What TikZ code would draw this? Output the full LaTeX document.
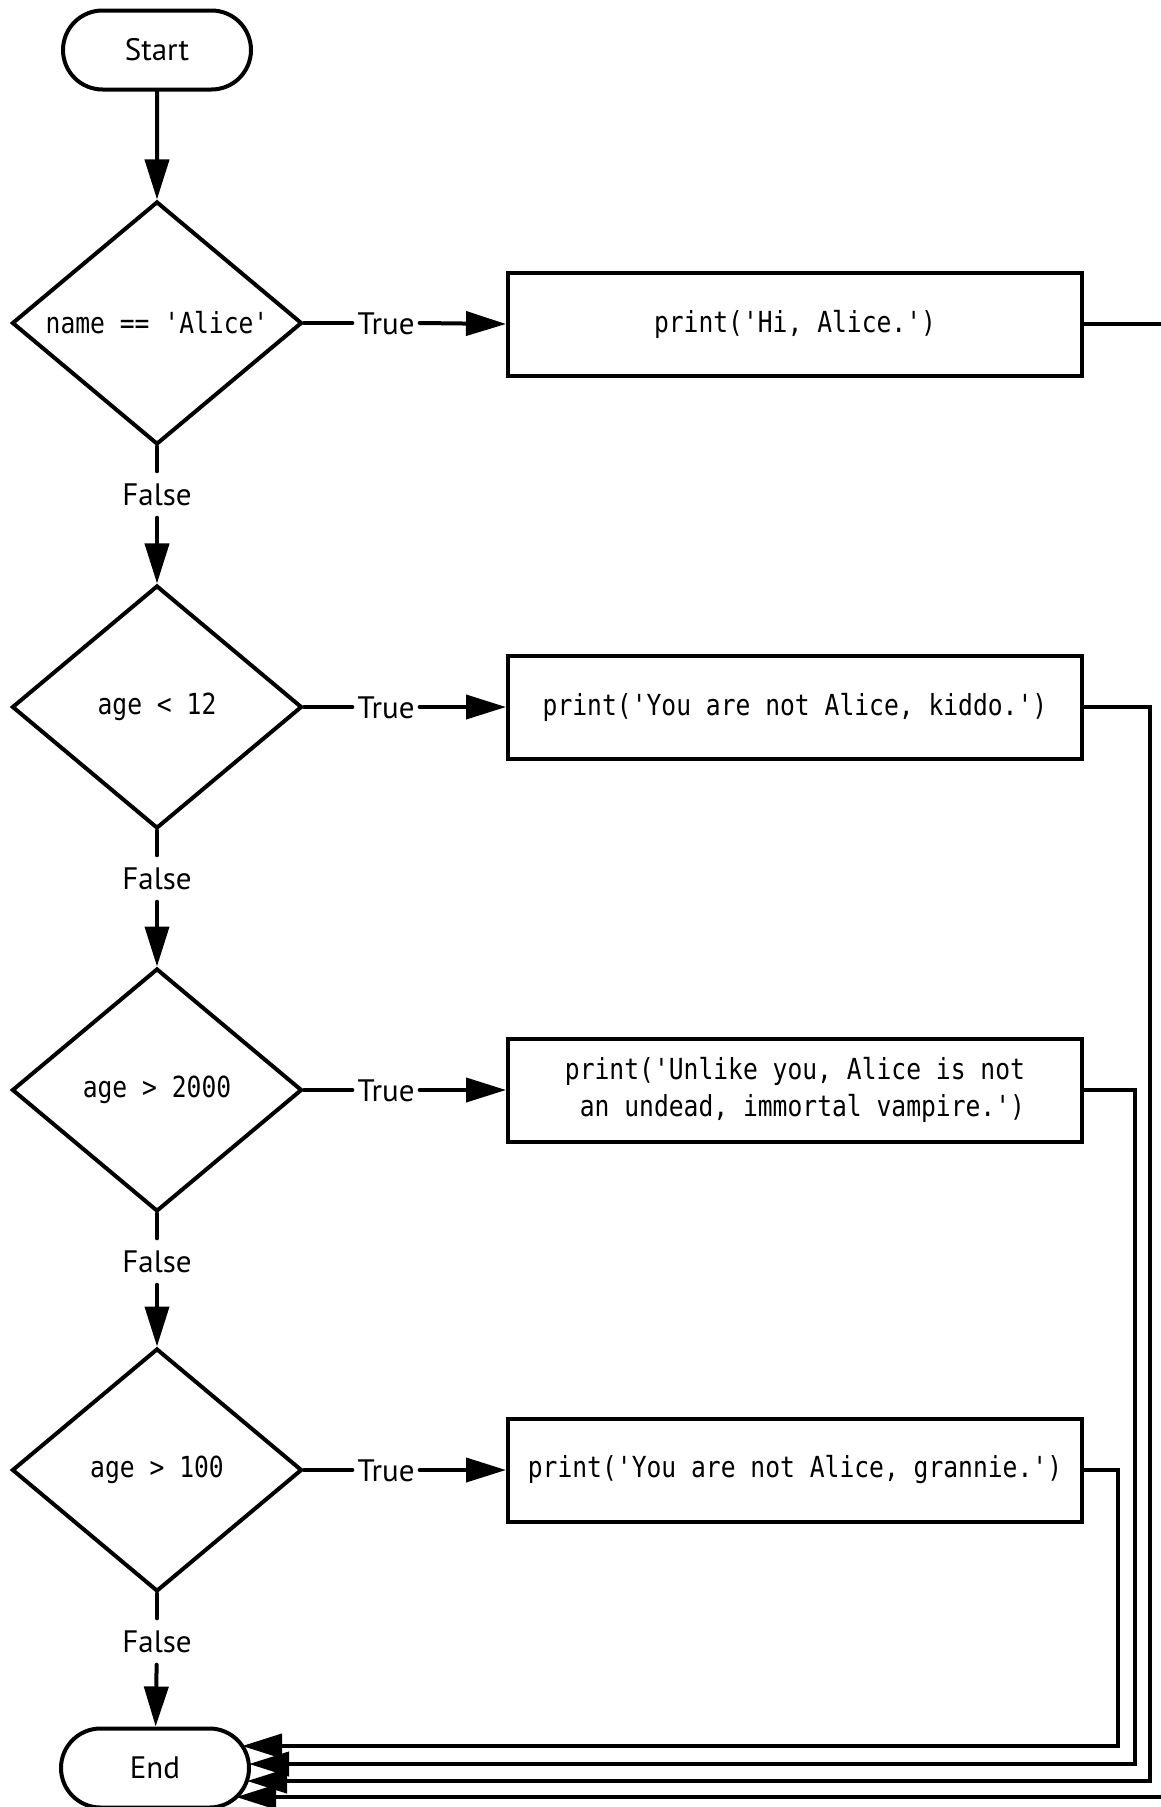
\documentclass[tikz,border=0pt]{standalone}
\usepackage{fontspec}
\setmainfont{PT Sans}
\setmonofont{DejaVu Sans Mono}[FakeStretch=0.85]
\usepackage{tikz}
\usetikzlibrary{calc,arrows.meta,shapes.geometric,shapes.misc}
\tikzset{
  base/.style={draw=black, line width=4pt, line cap=round, line join=miter},
  arr/.style={base, -{Triangle[length=40pt,width=24pt]}},
  term/.style={base, rounded rectangle, minimum width=188pt, minimum height=79pt, inner sep=0pt, font=\fontsize{31}{36}\selectfont},
  test/.style={base, diamond, aspect=1.2, minimum width=290pt, minimum height=243pt, inner sep=0pt, font=\fontsize{29}{34}\selectfont\ttfamily},
  act/.style={base, rectangle, minimum width=574pt, minimum height=103pt, inner sep=0pt, align=left, font=\fontsize{29}{37}\selectfont\ttfamily},
  lab/.style={inner xsep=5pt, inner ysep=12pt, text height=22pt, text depth=0pt, font=\fontsize{31}{36}\selectfont},
}

\begin{document}
\begin{tikzpicture}[x=1pt,y=-1pt]
  \useasboundingbox (0,0) rectangle (1161,1807);
  \clip (0,0) rectangle (1161,1807);
  % decisions
  \node[term] (start) at (157,50) {Start};
  \node[test] (t1) at (157,323) {name == 'Alice'};
  \node[test] (t2) at (157,707) {age < 12};
  \node[test] (t3) at (157,1090) {age > 2000};
  \node[test] (t4) at (157,1470) {age > 100};
  \node[term] (end) at (155,1768) {End};
  % print boxes
  \node[act] (p1) at (795,324) {print('Hi, Alice.')};
  \node[act] (p2) at (795,707) {print('You are not Alice, kiddo.')};
  \node[act] (p3) at (795,1090) {print('Unlike you, Alice is not\\\hphantom{a}an undead, immortal vampire.')};
  \node[act] (p4) at (795,1470) {print('You are not Alice, grannie.')};
  % branch labels
  \foreach \i in {1,...,4}{
    \node[lab] (yes\i) at (386,0 |- t\i) {True};
    \node[lab] (no\i) at ($(t\i.south)+(0,48)$) {False};
    \draw[base] (t\i.east) -- (yes\i.west);
    \draw[arr] (yes\i.east) -- (p\i.west);
    \draw[base] (t\i.south) -- (no\i.north);
  }
  \draw[arr] (start) -- (t1);
  \draw[arr] (no1) -- (t2);
  \draw[arr] (no2) -- (t3);
  \draw[arr] (no3) -- (t4);
  \draw[arr] (no4) -- (end);
  % return lines into End
  \coordinate (c1) at (1170,0);
  \coordinate (c2) at (1150,0);
  \coordinate (c3) at (1135,0);
  \coordinate (c4) at (1118,0);
  \coordinate (in1) at ($(end.center)+(81,29)$);
  \coordinate (in2) at ($(end.center)+(92,13)$);
  \coordinate (in3) at ($(end.center)+(94,-4)$);
  \coordinate (in4) at ($(end.center)+(87,-22)$);
  \foreach \i in {1,...,4}
    \draw[arr] (p\i.east) -- (p\i.east -| c\i) |- (in\i);
\end{tikzpicture}
\end{document}
